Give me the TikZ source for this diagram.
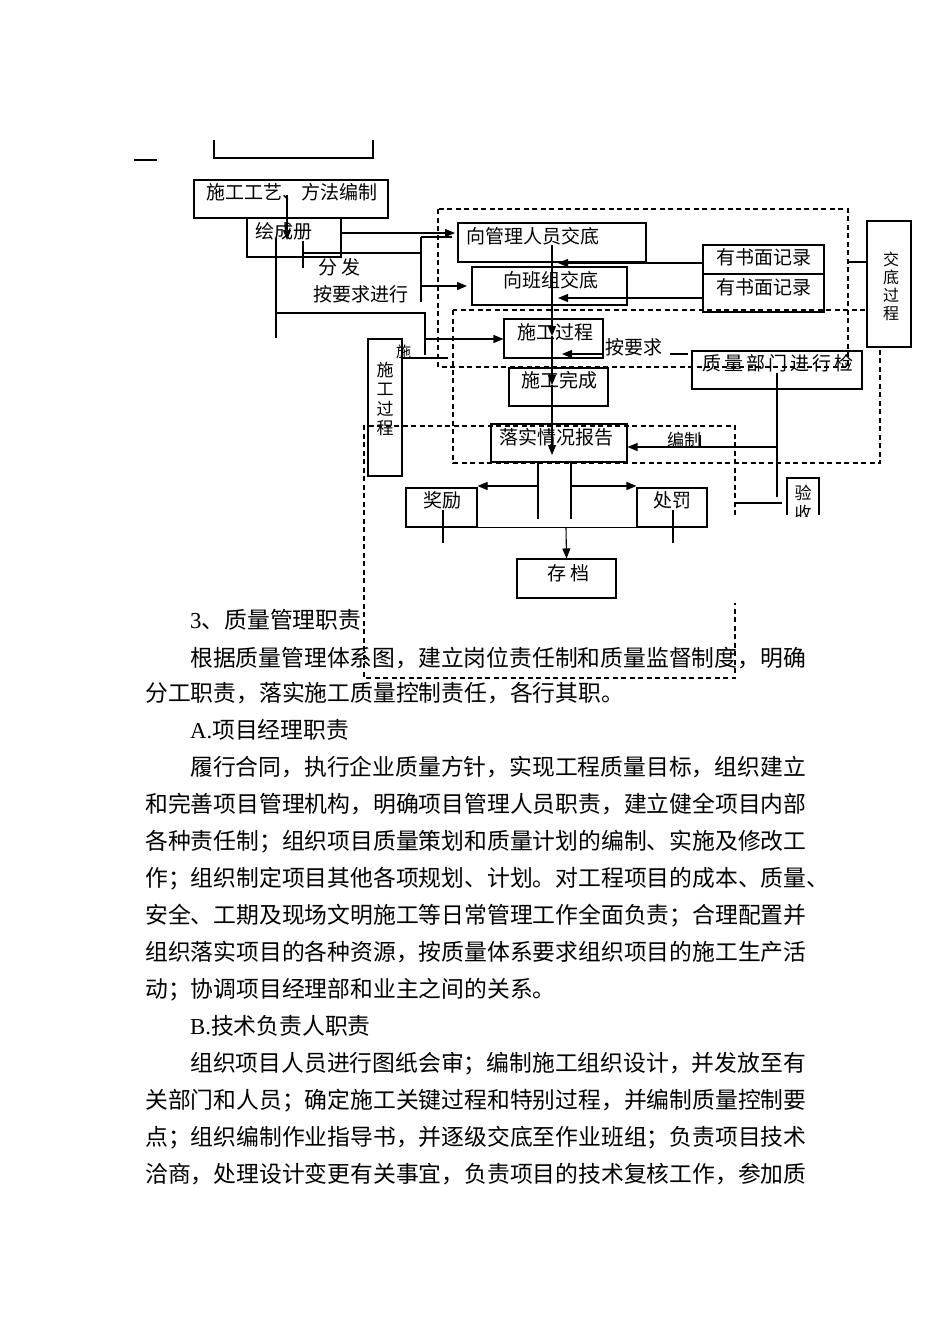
\documentclass[tikz,border=0pt]{standalone}
\usepackage{fontspec}
\setmainfont{Noto Sans CJK SC}
\newfontfamily\lat{Liberation Serif}
\usetikzlibrary{arrows.meta}
\XeTeXlinebreaklocale "zh"
\XeTeXlinebreakskip=0pt plus 4pt
\begin{document}
\begin{tikzpicture}[x=1pt,y=-1pt,
  ln/.style={line width=1.1pt},
  box/.style={draw, line width=1.1pt, inner sep=0pt},
  dsh/.style={line width=1.1pt, dash pattern=on 5pt off 3.5pt},
  arr/.style={line width=1.1pt, -{Triangle[length=10pt,width=8pt]}},
  lb/.style={inner sep=0pt, anchor=base west, font=\fontsize{19}{22}\selectfont},
  sl/.style={inner sep=0pt, anchor=base west, font=\fontsize{17}{20}\selectfont},
  vt/.style={inner sep=0pt, align=center, font=\fontsize{17}{19.5}\selectfont},
  bt/.style={inner sep=0pt, anchor=base west, font=\fontsize{22.8}{26}\selectfont},
]
\useasboundingbox (0,0) rectangle (950,1344);
\fill[white] (0,0) rectangle (950,1344);

% ---------- dashed frames ----------
\draw[dsh] (438,209) rectangle (848,367);
\draw[dsh] (453,310) rectangle (880,463);
\draw[dsh] (735,515) -- (735,426) -- (364,426) -- (364,678) -- (735,678) -- (735,603);

% ---------- boxes ----------
\node[box, minimum width=194pt, minimum height=38pt] (gy) at (291,199) {};
\node[box, minimum width=94pt, minimum height=39pt] (hc) at (294,237.5) {};
\node[box, minimum width=188pt, minimum height=39pt] (mgr) at (552,242.5) {};
\node[box, minimum width=155pt, minimum height=38pt] (bz) at (549.5,286) {};
\node[box, minimum width=121pt, minimum height=67pt] (jl) at (763.5,278.5) {};
\draw[ln] (jl.west |- 0,274) -- (jl.east |- 0,274);
\node[box, fill=white, minimum width=44pt, minimum height=126pt] (jd) at (889,284) {};
\node[box, minimum width=99pt, minimum height=39pt] (sg) at (553.5,338.5) {};
\node[box, minimum width=99pt, minimum height=38pt] (wc) at (558.5,387) {};
\node[box, minimum width=170pt, minimum height=38pt] (zl) at (777,370) {};
\node[box, minimum width=136pt, minimum height=38pt] (ls) at (559,443) {};
\node[box, minimum width=34pt, minimum height=137pt] (sgv) at (385,407.5) {};
\node[box, minimum width=71pt, minimum height=39pt] (jli) at (441.5,507.5) {};
\node[box, minimum width=70pt, minimum height=39pt] (cf) at (672,507.5) {};
\node[box, minimum width=99pt, minimum height=39pt] (cd) at (566.5,578.5) {};
\coordinate (ysbl) at (787,515);
\coordinate (ysbr) at (819,515);
\draw[ln] (ysbl) -- (787,478) -- (819,478) -- (ysbr);

% ---------- stray lines at top ----------
\draw[ln] (134,160) -- (157,160);
\draw[ln] (214,140) -- (214,158) -- (373,158) -- (373,140);

% ---------- connectors ----------
\draw[arr] (287,195) -- (287,240);
\draw[ln] (276,238) -- (276,338);
\draw[arr] (hc.east |- 0,233) -- (455,233);
\draw[ln] (421,237) -- (452,237);
\draw[ln] (421,237) -- (421,302);
\draw[arr] (421,286) -- (467,286);
\draw[ln] (303,241) -- (303,268);
\draw[ln] (303,253) -- (421,253);
\draw[ln] (276,313) -- (425,313) -- (425,355);
\draw[arr] (425,339) -- (sg.west |- 0,339);
\draw[ln] (403,358) -- (448,358);

\draw[arr] (jl.west |- 0,263) -- (558,263);
\draw[arr] (jl.west |- 0,298) -- (558,298);
\draw[ln] (848,262) -- (jd.west |- 0,262);

\draw[arr] (552,245) -- (552,336);
\draw[arr] (552,336) -- (552,385);
\draw[arr] (552,385) -- (552,455);

\draw[arr] (sg.east |- 0,354) -- (562,354);
\draw[ln] (670,354) -- (688,354);

\draw[ln] (777,373) -- (777,497);
\draw[arr] (777,447) -- (ls.east |- 0,447);
\draw[ln] (700,435) -- (700,448);
\draw[ln] (735,503) -- (782,503);

\draw[ln] (538,462) -- (538,519);
\draw[ln] (571,462) -- (571,519);
\draw[arr] (538,486) -- (jli.east |- 0,486);
\draw[arr] (571,486) -- (cf.west |- 0,486);
\draw[ln] (jli.south east) -- (cf.south west);
\draw[ln] (443,510) -- (443,543);
\draw[ln] (673,510) -- (673,543);
\draw[arr] (566,527) -- (cd.north);

% ---------- diagram labels ----------
\node[lb] (t-gy) at (206,199) {施工工艺、方法编制};
\node[lb] (t-hc) at (255,238) {绘成册};
\node[lb] (t-ff) at (318,274) {分 发};
\node[lb] (t-ay) at (313,301) {按要求进行};
\node[lb] (t-mgr) at (466,243) {向管理人员交底};
\node[lb] (t-bz) at (503,287) {向班组交底};
\node[lb] (t-jl1) at (716,264) {有书面记录};
\node[lb] (t-jl2) at (716,294) {有书面记录};
\node[lb] (t-sg) at (517,339) {施工过程};
\node[lb] (t-ayq) at (605,354) {按要求};
\node[lb] (t-wc) at (521,387) {施工完成};
\node[lb] (t-zl) at (702,370) {\hbox to 151pt{质\hfill 量\hfill 部\hfill 门\hfill 进\hfill 行\hfill 检}};
\node[lb] (t-ls) at (499,444) {落实情况报告};
\node[sl] (t-bzh) at (667,446) {编制};
\node[lb] (t-jli) at (423,507) {奖励};
\node[lb] (t-cf) at (653,507) {处罚};
\node[lb] (t-cd) at (547,580) {存 档};
\node[inner sep=0pt, anchor=base west, font=\fontsize{15}{17}\selectfont] (t-s) at (396,357) {施};
\node[vt] (t-sgv) at (385,399) {施\\工\\过\\程};
\node[vt, font=\fontsize{16}{18}\selectfont] (t-jd) at (891,286) {交\\底\\过\\程};
\begin{scope}
\clip (780,470) rectangle (830,516);
\node[vt] (t-ys) at (803,503) {验\\收};
\end{scope}

% ---------- body text ----------
\node[bt] (p1) at (190,628.5) {{\lat 3}、质量管理职责};
\node[bt] (p2) at (190,666.5) {\hbox to 615pt{根据质量管理体系图，建立岗位责任制和质量监督制度，明确}};
\node[bt] (p3) at (145,701.5) {分工职责，落实施工质量控制责任，各行其职。};
\node[bt] (p4) at (190,738.5) {{\lat A.}项目经理职责};
\node[bt] (p5) at (190,775.5) {\hbox to 615pt{履行合同，执行企业质量方针，实现工程质量目标，组织建立}};
\node[bt] (p6) at (145,812.5) {\hbox to 660pt{和完善项目管理机构，明确项目管理人员职责，建立健全项目内部}};
\node[bt] (p7) at (145,849.5) {\hbox to 660pt{各种责任制；组织项目质量策划和质量计划的编制、实施及修改工}};
\node[bt] (p8) at (145,886.5) {\hbox to 670pt{作；组织制定项目其他各项规划、计划。对工程项目的成本、质量、}};
\node[bt] (p9) at (145,923.5) {\hbox to 660pt{安全、工期及现场文明施工等日常管理工作全面负责；合理配置并}};
\node[bt] (p10) at (145,960.5) {\hbox to 660pt{组织落实项目的各种资源，按质量体系要求组织项目的施工生产活}};
\node[bt] (p11) at (145,997.5) {动；协调项目经理部和业主之间的关系。};
\node[bt] (p12) at (190,1034.5) {{\lat B.}技术负责人职责};
\node[bt] (p13) at (190,1071.5) {\hbox to 615pt{组织项目人员进行图纸会审；编制施工组织设计，并发放至有}};
\node[bt] (p14) at (145,1108.5) {\hbox to 660pt{关部门和人员；确定施工关键过程和特别过程，并编制质量控制要}};
\node[bt] (p15) at (145,1145.5) {\hbox to 660pt{点；组织编制作业指导书，并逐级交底至作业班组；负责项目技术}};
\node[bt] (p16) at (145,1182.5) {\hbox to 660pt{洽商，处理设计变更有关事宜，负责项目的技术复核工作，参加质}};
\end{tikzpicture}
\end{document}
